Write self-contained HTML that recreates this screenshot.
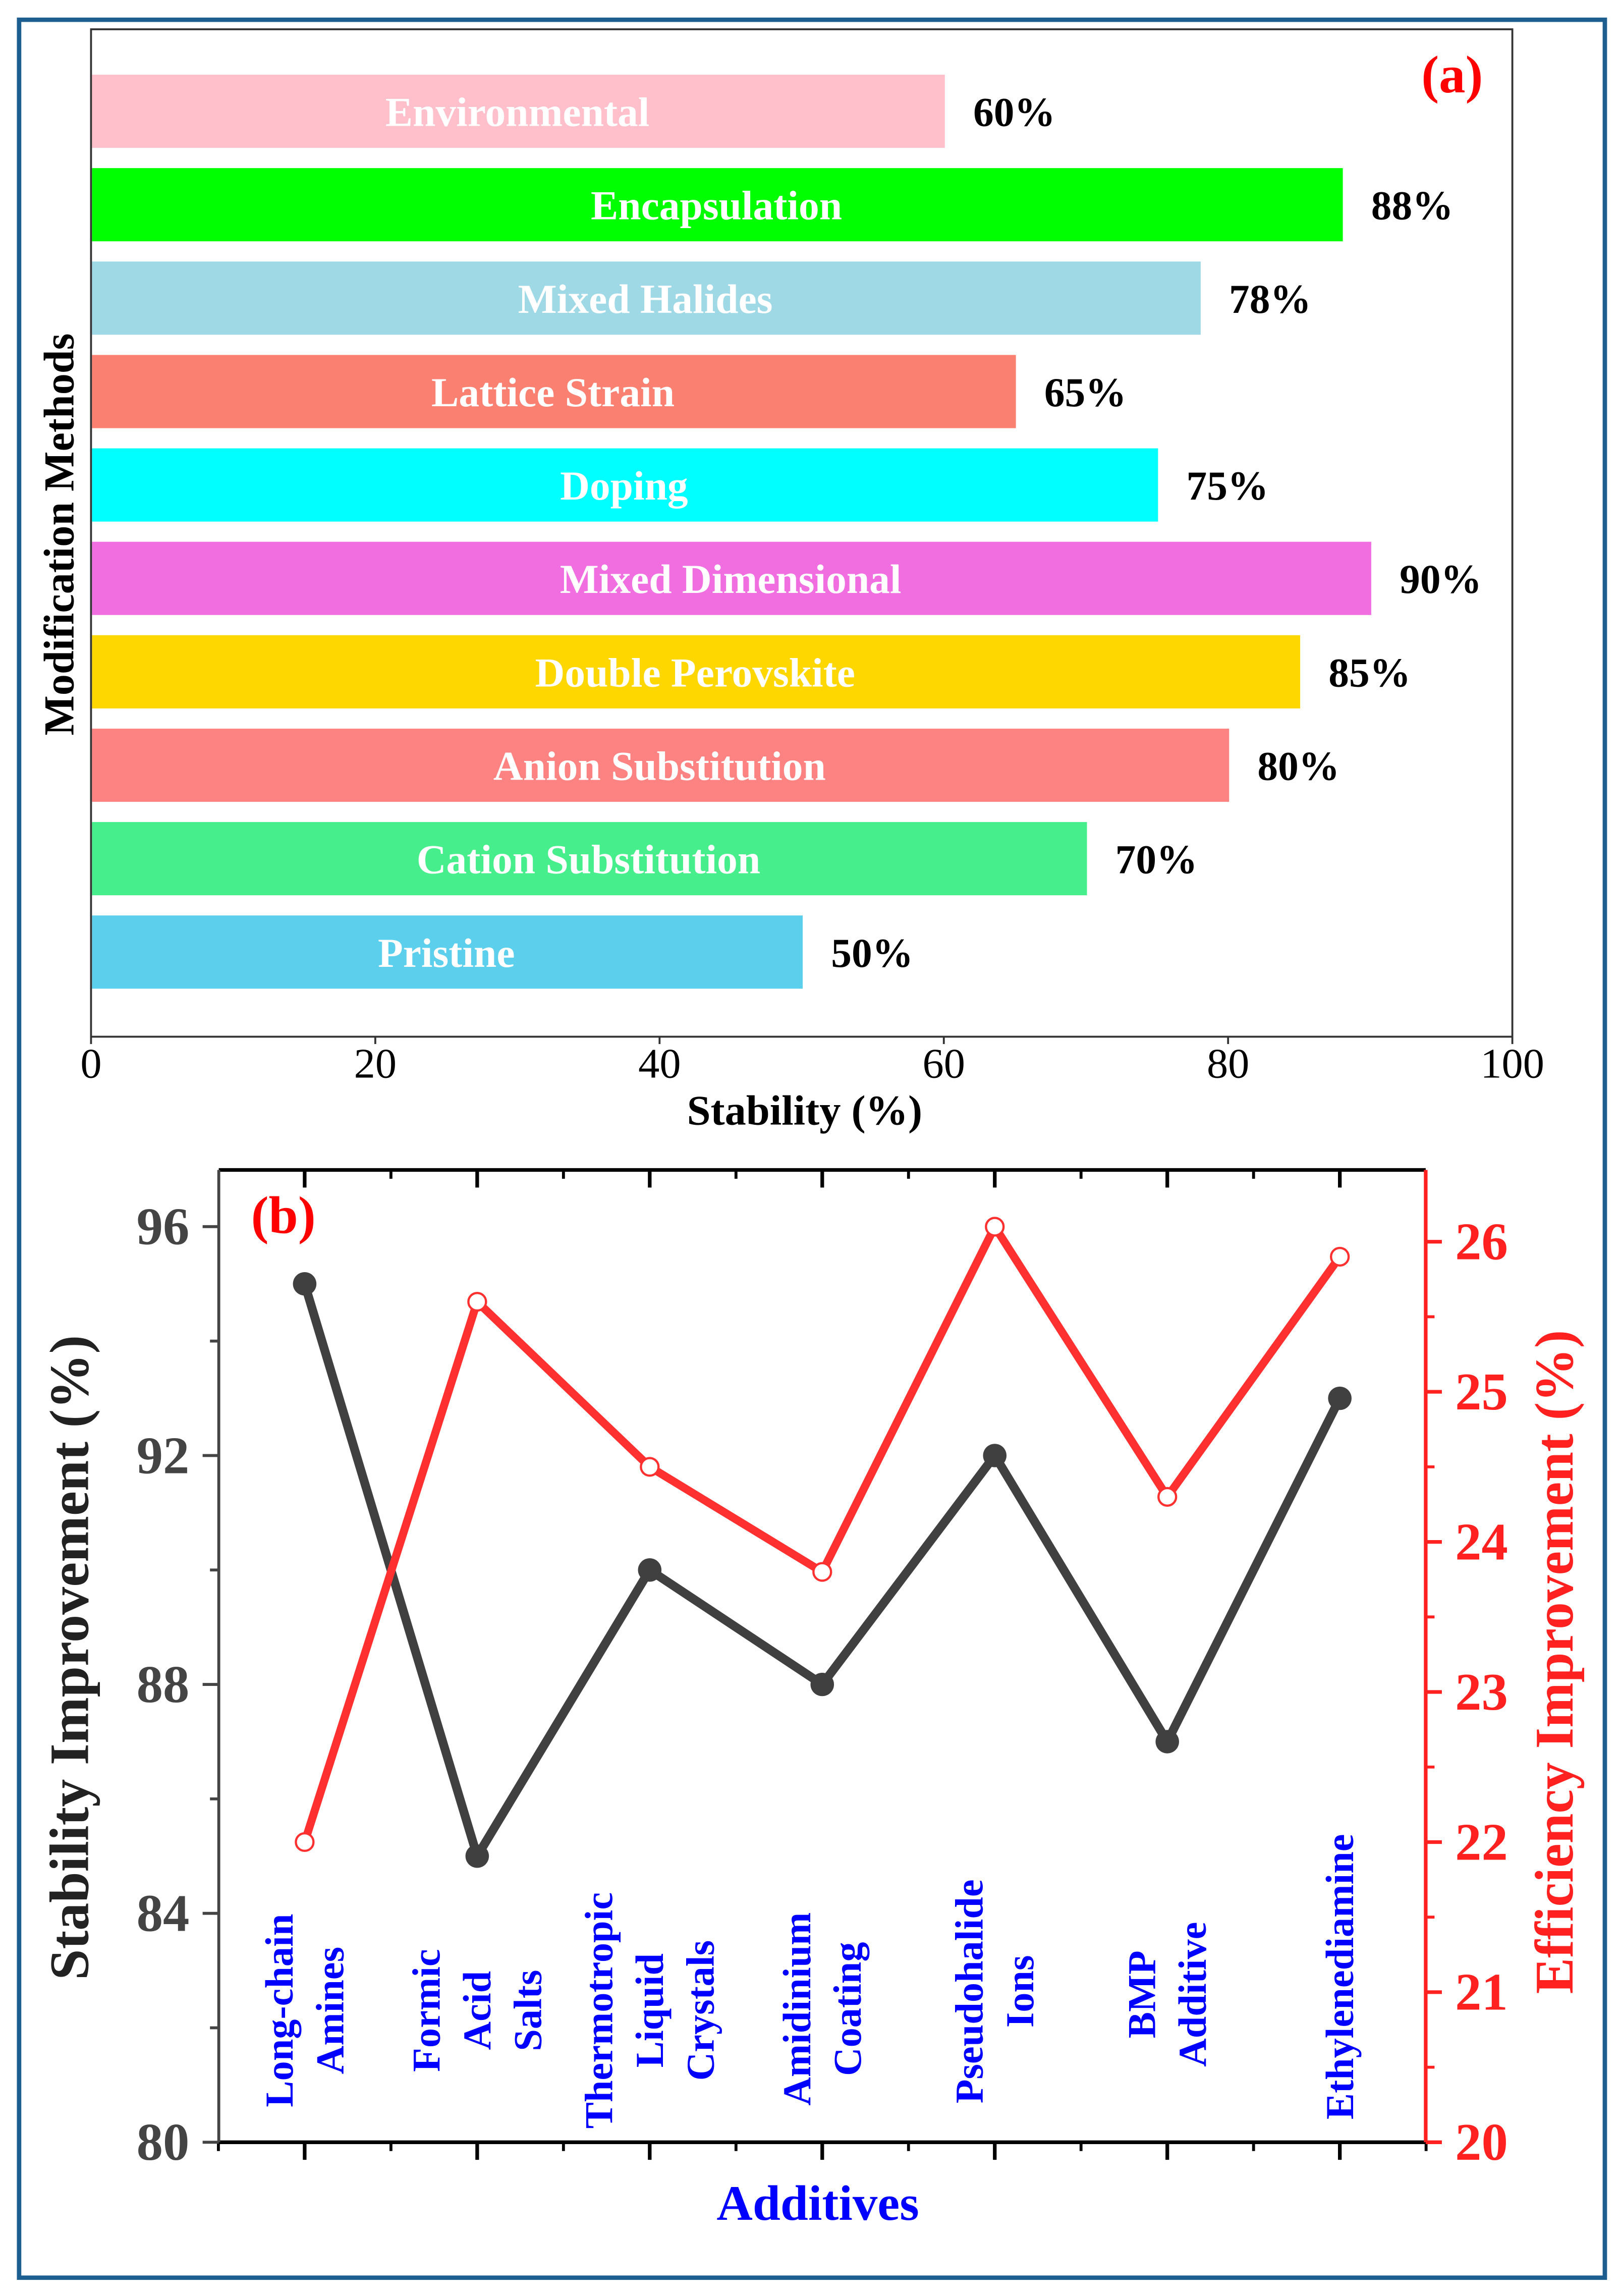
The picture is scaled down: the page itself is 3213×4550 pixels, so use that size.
<!DOCTYPE html>
<html><head><meta charset="utf-8"><style>
html,body{margin:0;padding:0;background:#fff;}
svg{display:block;font-family:"Liberation Serif","Times New Roman",serif;}
</style></head><body>
<svg id="fig" width="3213" height="4550" viewBox="0 0 1104 1568" preserveAspectRatio="none" xmlns="http://www.w3.org/2000/svg">
<rect x="13" y="13.5" width="1080" height="1542" fill="none" stroke="#1b5e8f" stroke-width="3"/>
<g id="pa"></g>
<g id="pb"></g>
</svg>
<script>
// ---- Panel (a) data ----
const methods = ["Environmental","Encapsulation","Mixed Halides","Lattice Strain","Doping","Mixed Dimensional","Double Perovskite","Anion Substitution","Cation Substitution","Pristine"];
const stability = [60,88,78,65,75,90,85,80,70,50];
const barColors = ["#ffc0cb","#00ff00","#9fd9e6","#fa8072","#00ffff","#f06ee0","#ffd700","#fd8383","#47ef8c","#5bcfec"];
const xTicksA = [0,20,40,60,80,100];

// ---- Panel (b) data ----
const additives = [["Long-chain","Amines"],["Formic","Acid","Salts"],["Thermotropic","Liquid","Crystals"],["Amidinium","Coating"],["Pseudohalide","Ions"],["BMP","Additive"],["Ethylenediamine"]];
const stabImp = [95,85,90,88,92,87,93];
const effImp = [22.0,25.6,24.5,23.8,26.1,24.3,25.9];
const leftTicks = [80,84,88,92,96];
const rightTicks = [20,21,22,23,24,25,26];

const NS="http://www.w3.org/2000/svg";
function mk(parent,tag,attrs,text){const e=document.createElementNS(NS,tag);for(const k in attrs)e.setAttribute(k,attrs[k]);if(text!==undefined)e.textContent=text;parent.appendChild(e);return e;}

// ---- Panel a ----
const pa=document.getElementById('pa');
const AX0=62, AX1=1030, AY0=20, AY1=708;
const xa=v=>AX0+(v/100)*(AX1-AX0);
const ya=i=>76+i*63.8;
let fr=mk(pa,'rect',{x:AX0,y:AY0,width:AX1-AX0,height:AY1-AY0,fill:'none',stroke:'#333','stroke-width':1.3});


methods.forEach((m,i)=>{
  const r=mk(pa,'rect',{x:AX0+0.7,y:ya(i)-25,width:xa(stability[i])-AX0,height:50,fill:barColors[i]});
  
  
  const t=mk(pa,'text',{x:(AX0+xa(stability[i]))/2,y:ya(i)+10,'text-anchor':'middle','font-size':28,'font-weight':'bold',fill:'#fff'},m);
  
  
  const v=mk(pa,'text',{x:xa(stability[i])+20,y:ya(i)+10,'font-size':28,'font-weight':'bold',fill:'#000'},stability[i]+'%');
  
  
});
xTicksA.forEach(t=>{
  const l=mk(pa,'line',{x1:xa(t),x2:xa(t),y1:AY1,y2:AY1+5,stroke:'#333','stroke-width':1.3});
  
  
  const tx=mk(pa,'text',{x:xa(t),y:AY1+28,'text-anchor':'middle','font-size':29,fill:'#000'},t);
  
  
});
let xt=mk(pa,'text',{x:548,y:768,'text-anchor':'middle','font-size':29,'font-weight':'bold'},'Stability (%)');


let yt=mk(pa,'text',{x:0,y:0,transform:'translate(50,365) rotate(-90)','text-anchor':'middle','font-size':29,'font-weight':'bold'},'Modification Methods');


let la=mk(pa,'text',{x:989,y:63,'text-anchor':'middle','font-size':36,'font-weight':'bold',fill:'#ff0000'},'(a)');



// ---- Panel b ----
const pb=document.getElementById('pb');
const BX0=149, BX1=971, BY0=799, BY1=1463;
const xb=i=>207.5+i*117.5;
const yL=v=>BY1-(v-80)*(BY1-837.7)/16;
const yR=v=>BY1-(v-20)*(BY1-848)/6;
let ax;
ax=mk(pb,'line',{x1:BX0,x2:BX1,y1:BY0,y2:BY0,stroke:'#000','stroke-width':2.5});


ax=mk(pb,'line',{x1:BX0,x2:BX1,y1:BY1,y2:BY1,stroke:'#000','stroke-width':2.5});


ax=mk(pb,'line',{x1:BX0,x2:BX0,y1:BY0,y2:BY1,stroke:'#444','stroke-width':2});


ax=mk(pb,'line',{x1:BX1,x2:BX1,y1:BY0,y2:BY1,stroke:'#ff2020','stroke-width':2.5});


// x ticks
additives.forEach((a,i)=>{
  let t=mk(pb,'line',{x1:xb(i),x2:xb(i),y1:BY1,y2:BY1+12,stroke:'#000','stroke-width':2.5});
  
  
  t=mk(pb,'line',{x1:xb(i),x2:xb(i),y1:BY0,y2:BY0+12,stroke:'#000','stroke-width':2.5});
  
  
  if(i<additives.length-1){
    t=mk(pb,'line',{x1:xb(i)+58.75,x2:xb(i)+58.75,y1:BY1,y2:BY1+6,stroke:'#000','stroke-width':2});
    
    
    t=mk(pb,'line',{x1:xb(i)+58.75,x2:xb(i)+58.75,y1:BY0,y2:BY0+6,stroke:'#000','stroke-width':2});
    
    
  }
});
let mt=mk(pb,'line',{x1:xb(0)-58.75,x2:xb(0)-58.75,y1:BY1,y2:BY1+6,stroke:'#000','stroke-width':2});


mt=mk(pb,'line',{x1:xb(6)+58.75,x2:xb(6)+58.75,y1:BY1,y2:BY1+6,stroke:'#000','stroke-width':2});


// left ticks
leftTicks.forEach(v=>{
  let t=mk(pb,'line',{x1:BX0-11,x2:BX0,y1:yL(v),y2:yL(v),stroke:'#444','stroke-width':2});
  
  
  let s=mk(pb,'text',{x:BX0-20,y:yL(v)+12,'text-anchor':'end','font-size':36,'font-weight':'bold',fill:'#444'},v);
  
  
  if(v<96){
    t=mk(pb,'line',{x1:BX0-6,x2:BX0,y1:yL(v+2),y2:yL(v+2),stroke:'#444','stroke-width':2});
    
    
  }
});
// right ticks
rightTicks.forEach(v=>{
  let t=mk(pb,'line',{x1:BX1,x2:BX1+11,y1:yR(v),y2:yR(v),stroke:'#ff2020','stroke-width':2.5});
  
  
  let s=mk(pb,'text',{x:BX1+20,y:yR(v)+12,'font-size':36,'font-weight':'bold',fill:'#ff2020'},v);
  
  
  if(v<26){
    t=mk(pb,'line',{x1:BX1,x2:BX1+6,y1:yR(v+0.5),y2:yR(v+0.5),stroke:'#ff2020','stroke-width':2});
    
    
  }
});
// category labels
const labelCY=[1373,1373,1373,1372,1360,1362,1350];
additives.forEach((lines,i)=>{
  const n=lines.length;
  lines.forEach((w,j)=>{
    const cx=xb(i)+(j-(n-1)/2)*34.5;
    const t=mk(pb,'text',{x:0,y:0,transform:`translate(${cx+9},${labelCY[i]}) rotate(-90)`,'text-anchor':'middle','font-size':27,'font-weight':'bold',fill:'#0000ff'},w);
    
    
  });
});
// series
const blackPts=stabImp.map((v,i)=>xb(i)+','+yL(v)).join(' ');
let pl=mk(pb,'polyline',{points:blackPts,fill:'none',stroke:'#404040','stroke-width':6,'stroke-linejoin':'miter'});


const redPts=effImp.map((v,i)=>xb(i)+','+yR(v)).join(' ');
pl=mk(pb,'polyline',{points:redPts,fill:'none',stroke:'#ff3030','stroke-width':5.5});


stabImp.forEach((v,i)=>{
  const c=mk(pb,'circle',{cx:xb(i),cy:yL(v),r:8,fill:'#404040'});
  
  
});
effImp.forEach((v,i)=>{
  const c=mk(pb,'circle',{cx:xb(i),cy:yR(v),r:6,fill:'#fff',stroke:'#ff3030','stroke-width':1.5});
  
  
});
let tt=mk(pb,'text',{x:0,y:0,transform:'translate(60,1132) rotate(-90)','text-anchor':'middle','font-size':38,'font-weight':'bold',fill:'#222'},'Stability Improvement (%)');


tt=mk(pb,'text',{x:0,y:0,transform:'translate(1071,1135) rotate(-90)','text-anchor':'middle','font-size':37,'font-weight':'bold',fill:'#ff2020'},'Efficiency Improvement (%)');


tt=mk(pb,'text',{x:557,y:1516,'text-anchor':'middle','font-size':34,'font-weight':'bold',fill:'#0000ff'},'Additives');


tt=mk(pb,'text',{x:193,y:842,'text-anchor':'middle','font-size':36,'font-weight':'bold',fill:'#ff0000'},'(b)');


</script>
</body></html>
